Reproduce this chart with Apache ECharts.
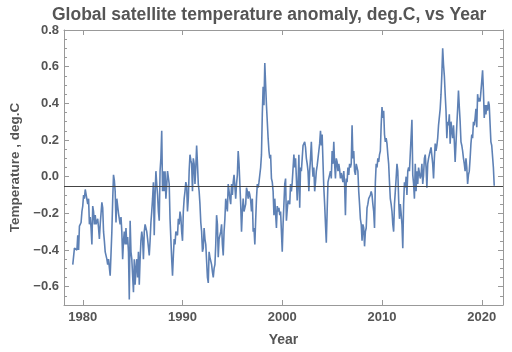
<!DOCTYPE html>
<html>
<head>
<meta charset="utf-8">
<script src="https://cdn.jsdelivr.net/npm/echarts@6/dist/echarts.min.js"></script>
<style>html,body{margin:0;padding:0;background:#fff}#c{width:512px;height:352px}</style>
</head>
<body>
<div id="c"></div>
<script>
// Monthly anomalies, deg.C, starting January 1979
const startYear = 1979;
const temps1979to1988 = [
-0.48,-0.47,-0.39,-0.40,-0.38,-0.40,-0.32,-0.40,-0.27,-0.26,-0.25,-0.19,
-0.16,-0.10,-0.12,-0.07,-0.06,-0.08,-0.15,-0.12,-0.26,-0.22,-0.28,-0.37,
-0.16,-0.19,-0.26,-0.21,-0.26,-0.25,-0.23,-0.28,-0.34,-0.26,-0.20,-0.14,
-0.17,-0.30,-0.35,-0.41,-0.40,-0.45,-0.48,-0.45,-0.46,-0.54,-0.55,-0.30,
-0.13,0.01,-0.02,-0.08,-0.25,-0.12,-0.16,-0.20,-0.23,-0.26,-0.22,-0.30,
-0.45,-0.35,-0.30,-0.37,-0.28,-0.37,-0.33,-0.41,-0.67,-0.24,-0.41,-0.45,
-0.45,-0.63,-0.45,-0.59,-0.50,-0.45,-0.55,-0.41,-0.59,-0.45,-0.35,-0.30,
-0.34,-0.45,-0.30,-0.26,-0.28,-0.30,-0.34,-0.35,-0.43,-0.35,-0.25,-0.19,
-0.12,-0.03,-0.32,-0.10,0.03,-0.04,-0.10,-0.19,-0.24,0.03,0.10,0.25,
-0.08,0.03,-0.08,0.03,-0.12,-0.05,0.03,0.03,-0.04,-0.23,-0.34,-0.45
];
const temps1989to1998 = [
-0.54,-0.43,-0.34,-0.37,-0.30,-0.30,-0.32,-0.23,-0.26,-0.19,-0.22,-0.30,
-0.35,-0.19,-0.12,-0.08,-0.03,-0.05,-0.19,-0.12,0.03,0.12,0.09,0.07,
-0.08,0.10,0.07,-0.04,0.05,0.17,0.07,-0.04,-0.08,-0.15,-0.25,-0.30,
-0.41,-0.39,-0.28,-0.34,-0.37,-0.37,-0.55,-0.58,-0.41,-0.44,-0.45,-0.48,
-0.52,-0.55,-0.50,-0.48,-0.37,-0.21,-0.26,-0.44,-0.34,-0.33,-0.30,-0.26,
-0.37,-0.43,-0.30,-0.23,-0.12,-0.12,-0.19,-0.04,-0.08,-0.12,-0.15,-0.04,
-0.10,-0.03,0.01,-0.05,-0.12,-0.04,0.01,0.14,0.07,-0.04,-0.15,-0.30,
-0.19,-0.12,-0.19,-0.19,-0.15,-0.06,-0.08,-0.12,-0.08,-0.10,-0.13,-0.19,
-0.12,-0.30,-0.28,-0.37,-0.24,-0.12,-0.04,-0.06,-0.03,-0.02,0.05,0.12,
0.34,0.49,0.39,0.62,0.50,0.39,0.30,0.21,0.14,0.10,0.12,-0.01
];
const temps1999to2008 = [
-0.03,-0.08,-0.21,-0.12,-0.20,-0.28,-0.16,-0.19,-0.17,-0.21,-0.19,-0.19,
-0.41,-0.26,-0.15,-0.04,-0.01,-0.24,-0.18,-0.13,-0.12,-0.15,-0.04,-0.08,
-0.03,-0.03,0.12,0.05,0.10,-0.01,-0.13,-0.04,0.12,-0.17,0.05,0.03,
0.10,0.17,0.16,0.19,0.16,0.10,0.07,0.03,-0.08,0.03,0.10,0.19,
0.07,0.00,0.05,-0.08,-0.03,0.03,0.06,0.10,0.14,0.18,0.25,0.17,
0.23,0.08,-0.06,-0.15,-0.26,-0.36,-0.19,-0.03,-0.04,-0.02,0.03,-0.01,
0.14,0.07,0.19,0.07,-0.01,0.10,0.08,0.03,0.07,0.04,-0.01,0.02,
0.01,-0.03,0.03,-0.04,-0.21,-0.01,-0.03,0.05,0.01,0.07,0.05,0.07,
0.28,0.10,0.14,0.03,0.01,0.07,0.08,0.03,-0.08,-0.15,-0.23,-0.26,
-0.35,-0.26,-0.28,-0.38,-0.30,-0.28,-0.17,-0.15,-0.12,-0.12,-0.10,-0.08
];
const temps2009to2018 = [
-0.10,-0.15,-0.19,-0.28,-0.03,0.07,0.05,0.10,0.08,0.12,0.14,0.28,
0.38,0.32,0.36,0.23,0.19,0.21,0.18,0.12,0.07,-0.03,-0.12,-0.15,
-0.19,-0.26,-0.30,-0.15,-0.08,-0.01,0.07,0.03,-0.12,-0.23,-0.15,-0.20,
-0.26,-0.39,-0.15,-0.03,-0.06,0.00,-0.10,0.03,0.05,0.03,0.04,0.03,
0.31,0.01,-0.04,-0.12,0.07,-0.08,0.03,-0.04,0.05,0.05,-0.01,0.01,
0.07,-0.04,0.01,0.10,0.12,0.05,-0.06,0.07,0.10,0.12,0.14,0.16,
0.16,0.07,-0.01,0.10,0.18,0.14,0.17,0.21,0.28,0.27,0.37,0.45,
0.56,0.70,0.61,0.55,0.45,0.36,0.21,0.30,0.28,0.34,0.18,0.30,
0.25,0.21,0.28,0.19,0.08,0.18,0.28,0.37,0.47,0.38,0.30,0.19,
0.17,0.14,0.10,0.07,0.03,0.10,0.05,-0.04,0.01,0.03,0.10,0.18
];
const temps2019to2021 = [
0.23,0.21,0.30,0.28,0.32,0.37,0.27,0.45,0.41,0.43,0.41,0.42,
0.52,0.58,0.47,0.32,0.39,0.34,0.39,0.36,0.41,0.39,0.40,0.19,
0.17,0.16,0.05,-0.05
];
const xTickYears = [1980, 1990, 2000, 2010, 2020];
const yTickValues = [-0.6, -0.4, -0.2, 0.0, 0.2, 0.4, 0.6, 0.8];
const axisOriginY = -0.05;
const titleText = 'Global satellite temperature anomaly, deg.C, vs Year';
const xName = 'Year';
const yName = 'Temperature , deg.C';

const allTemps = [].concat(temps1979to1988, temps1989to1998, temps1999to2008, temps2009to2018, temps2019to2021);
const seriesData = allTemps.map((v, i) => [startYear + i / 12, v]);

const textColor = '#555555';
const frameColor = '#999999';
const font = 'Liberation Sans, Arial, sans-serif';
const xMin = 1978.12, xMax = 2022.13, yMin = -0.7, yMax = 0.8;

function fmtY(v) {
  const s = Math.abs(v) < 1e-9 ? '0.0' : v.toFixed(1);
  return s.replace('-', '\u2212');
}

const chart = echarts.init(document.getElementById('c'), null, {renderer: 'canvas'});
const lbl = {fontFamily: font, fontWeight: 'bold', fontSize: 13, color: textColor};
const tickLine = {color: frameColor, width: 1};

chart.setOption({
  animation: false,
  backgroundColor: '#ffffff',
  title: {
    text: titleText, left: 47, top: 1,
    textStyle: {fontFamily: font, fontWeight: 'bold', fontSize: 17.5, color: textColor}
  },
  grid: {left: 58, right: 9, top: 30, bottom: 47},
  xAxis: [
    {
      type: 'value', position: 'bottom', min: xMin, max: xMax,
      name: xName, nameLocation: 'middle', nameGap: 28,
      nameTextStyle: {fontFamily: font, fontWeight: 'bold', fontSize: 14, color: textColor},
      axisLine: {show: true, onZero: false, lineStyle: tickLine},
      axisTick: {show: true, inside: true, length: 5, customValues: xTickYears, lineStyle: tickLine},
      axisLabel: Object.assign({customValues: xTickYears, margin: 6, formatter: v => String(v)}, lbl),
      splitLine: {show: false}
    },
    {
      type: 'value', position: 'top', min: xMin, max: xMax,
      axisLine: {show: true, onZero: false, lineStyle: tickLine},
      axisTick: {show: true, inside: true, length: 5, customValues: xTickYears, lineStyle: tickLine},
      axisLabel: {show: false, customValues: xTickYears},
      splitLine: {show: false}
    }
  ],
  yAxis: [
    {
      type: 'value', position: 'left', min: yMin, max: yMax,
      name: yName, nameLocation: 'middle', nameGap: 42, nameRotate: 90,
      nameTextStyle: {fontFamily: font, fontWeight: 'bold', fontSize: 13.5, color: textColor},
      axisLine: {show: true, onZero: false, lineStyle: tickLine},
      axisTick: {show: true, inside: true, length: 5, customValues: yTickValues, lineStyle: tickLine},
      axisLabel: Object.assign({customValues: yTickValues, margin: 5, formatter: fmtY}, lbl),
      splitLine: {show: false}
    },
    {
      type: 'value', position: 'left', min: yMin, max: yMax, interval: 0.05,
      axisLine: {show: false},
      axisTick: {show: true, inside: true, length: 3, lineStyle: tickLine},
      axisLabel: {show: false}, splitLine: {show: false}
    },
    {
      type: 'value', position: 'right', min: yMin, max: yMax,
      axisLine: {show: true, onZero: false, lineStyle: tickLine},
      axisTick: {show: true, inside: true, length: 5, customValues: yTickValues, lineStyle: tickLine},
      axisLabel: {show: false, customValues: yTickValues}, splitLine: {show: false}
    },
    {
      type: 'value', position: 'right', min: yMin, max: yMax, interval: 0.05,
      axisLine: {show: false},
      axisTick: {show: true, inside: true, length: 3, lineStyle: tickLine},
      axisLabel: {show: false}, splitLine: {show: false}
    }
  ],
  series: [{
    type: 'line', xAxisIndex: 0, yAxisIndex: 0,
    data: seriesData, showSymbol: false, symbol: 'none',
    lineStyle: {color: '#5E81B5', width: 1.6},
    markLine: {
      silent: true, symbol: 'none', label: {show: false},
      lineStyle: {color: '#444444', width: 1, type: 'solid'},
      data: [{yAxis: axisOriginY}]
    }
  }]
});
</script>
</body>
</html>
